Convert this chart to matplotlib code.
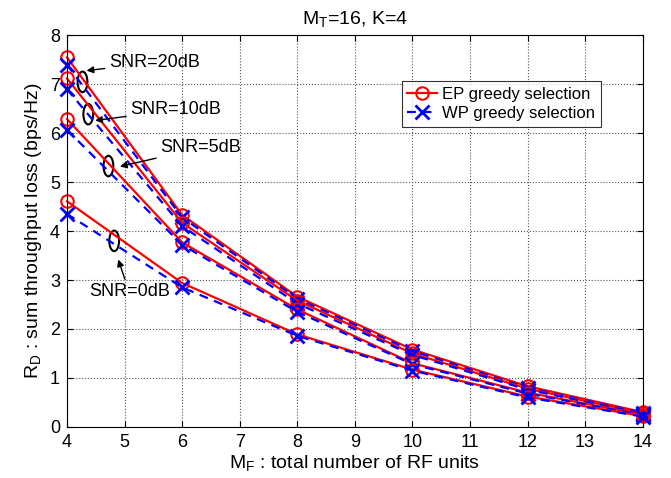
import matplotlib.pyplot as plt
from matplotlib.patches import Ellipse

plt.rcParams['font.family'] = ['Liberation Sans', 'DejaVu Sans']
plt.rcParams['mathtext.fontset'] = 'custom'
plt.rcParams['mathtext.rm'] = 'Liberation Sans'

mf = [4, 6, 8, 10, 12, 14]

# EP greedy selection
ep_20 = [7.55, 4.33, 2.66, 1.58, 0.83, 0.30]
ep_10 = [7.12, 4.17, 2.58, 1.50, 0.78, 0.28]
ep_5 = [6.29, 3.77, 2.40, 1.30, 0.70, 0.25]
ep_0 = [4.61, 2.94, 1.89, 1.17, 0.62, 0.22]

# WP greedy selection
wp_20 = [7.40, 4.28, 2.62, 1.55, 0.80, 0.29]
wp_10 = [6.90, 4.10, 2.52, 1.47, 0.76, 0.27]
wp_5 = [6.07, 3.72, 2.35, 1.28, 0.68, 0.24]
wp_0 = [4.35, 2.85, 1.86, 1.15, 0.60, 0.21]

fig = plt.figure(figsize=(6.71, 4.78), dpi=100)
ax = fig.add_axes([0.0998, 0.107, 0.858, 0.819])

for i, (ep, wp) in enumerate([(ep_20, wp_20), (ep_10, wp_10), (ep_5, wp_5), (ep_0, wp_0)]):
    ax.plot(mf, ep, color='#ff0000', linestyle='-', linewidth=1.6, marker='o',
            markersize=9, markerfacecolor='none', markeredgewidth=1.5, clip_on=False,
            label='EP greedy selection' if i == 0 else None)
    ax.plot(mf, wp, color='#0000ff', linestyle=(0, (4, 3)), linewidth=1.6, marker='x',
            markersize=10, markeredgewidth=2, clip_on=False,
            label='WP greedy selection' if i == 0 else None)

# ellipses + arrows for SNR groups
ellipses = [(4.27, 7.05), (4.37, 6.39), (4.72, 5.33), (4.82, 3.80)]
for cx, cy in ellipses:
    ax.add_patch(Ellipse((cx, cy), 0.17, 0.42, fill=False, edgecolor='black', linewidth=1.5))

arrow = dict(arrowstyle='-|>', color='black', lw=1.0, mutation_scale=10,
             shrinkA=1, shrinkB=0)
ax.annotate('SNR=20dB', xy=(4.34, 7.28), xytext=(4.73, 7.44), fontsize=13,
            va='center', ha='left', arrowprops=arrow)
ax.annotate('SNR=10dB', xy=(4.49, 6.26), xytext=(5.10, 6.48), fontsize=13,
            va='center', ha='left', arrowprops=arrow)
ax.annotate('SNR=5dB', xy=(4.92, 5.32), xytext=(5.62, 5.70), fontsize=13,
            va='center', ha='left', arrowprops=arrow)
ax.annotate('SNR=0dB', xy=(4.89, 3.42), xytext=(5.08, 2.76), fontsize=13,
            va='center', ha='center', arrowprops=arrow)

ax.set_xlim(4, 14)
ax.set_ylim(0, 8)
ax.set_xticks(range(4, 15))
ax.set_yticks(range(0, 9))
ax.tick_params(direction='in', labelsize=13, top=True, right=True, length=4, pad=5)
ax.grid(True, linestyle=':', color='#555555', linewidth=0.8)

ax.set_xlabel('M$_\\mathregular{F}$ : total number of RF units', fontsize=14, labelpad=2)
ax.set_ylabel('R$_\\mathregular{D}$ : sum throughput loss (bps/Hz)', fontsize=14, labelpad=4)
ax.set_title('M$_\\mathregular{T}$=16, K=4', fontsize=14, pad=8)

leg = ax.legend(loc='upper right', bbox_to_anchor=(0.928, 0.884), fontsize=12,
                frameon=True, fancybox=False, edgecolor='black',
                handlelength=1.8, borderpad=0.35, labelspacing=0.25, handletextpad=0.3,
                borderaxespad=0)
leg.get_frame().set_linewidth(0.8)

fig.savefig('out.png', dpi=100)
